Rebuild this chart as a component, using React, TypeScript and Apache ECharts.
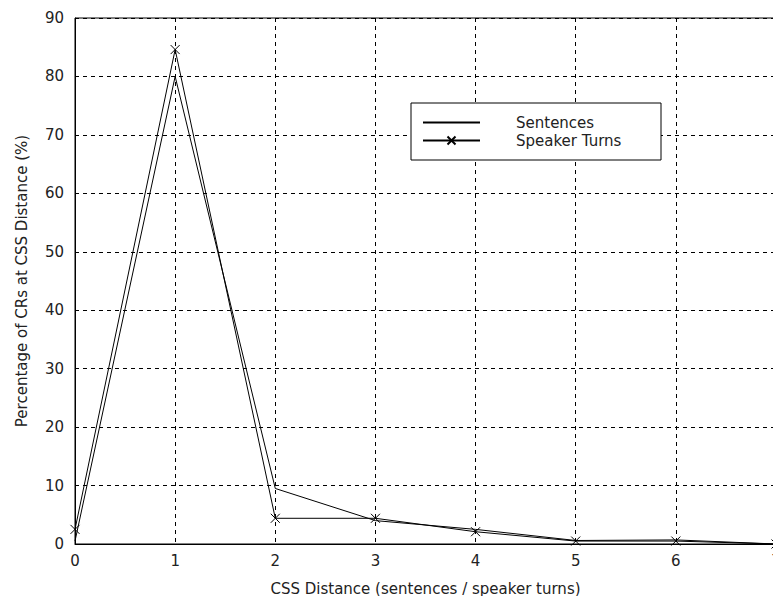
import React, { useEffect, useRef } from "react";
import * as echarts from "echarts";

const xValues = [0, 1, 2, 3, 4, 5, 6, 7];
const sentences = [0.5, 80, 9.5, 4.0, 2.5, 0.6, 0.7, 0];
const speakerTurns = [2.5, 84.6, 4.4, 4.4, 2.1, 0.5, 0.5, 0];
const seriesNames = ["Sentences", "Speaker Turns"];
const xAxisTitle = "CSS Distance (sentences / speaker turns)";
const yAxisTitle = "Percentage of CRs at CSS Distance (%)";

const FONT = "DejaVu Sans";
const TEXT = "#222";

export default function App() {
  const ref = useRef<HTMLDivElement>(null);
  useEffect(() => {
    document.body.style.margin = "0";
    if (!ref.current) return;
    const chart = echarts.init(ref.current, undefined, { renderer: "svg" });
    const toPairs = (ys: number[]) => xValues.map((x, i) => [x, ys[i]]);
    chart.setOption({
      animation: false,
      backgroundColor: "#fff",
      grid: {
        left: 75,
        top: 18,
        width: 701,
        height: 526,
        outerBoundsMode: "none",
        containLabel: false,
        show: true,
        borderColor: "#000",
        borderWidth: 1,
        backgroundColor: "transparent",
      },
      legend: {
        orient: "vertical",
        left: 411,
        top: 103,
        padding: [12, 12, 12, 11],
        itemGap: 3,
        itemWidth: 57,
        itemHeight: 10,
        borderColor: "#000",
        borderWidth: 1,
        backgroundColor: "#fff",
        data: [
          { name: seriesNames[0], itemStyle: { opacity: 0 } },
          { name: seriesNames[1] },
        ],
        textStyle: {
          fontFamily: FONT,
          fontSize: 15,
          color: TEXT,
          lineHeight: 14,
          width: 133,
          padding: [0, 0, 0, 31],
        },
      },
      xAxis: {
        type: "value",
        min: 0,
        max: 7,
        interval: 1,
        name: xAxisTitle,
        nameLocation: "middle",
        nameGap: 37,
        nameTextStyle: { fontFamily: FONT, fontSize: 15, color: TEXT },
        axisLine: { show: true, lineStyle: { color: "#000", width: 1 } },
        axisTick: { show: false },
        axisLabel: {
          fontFamily: FONT,
          fontSize: 15,
          color: TEXT,
          margin: 9,
          showMaxLabel: true,
        },
        splitLine: {
          show: true,
          lineStyle: { color: "#000", type: [4, 4], width: 1 },
        },
      },
      yAxis: {
        type: "value",
        min: 0,
        max: 90,
        interval: 10,
        name: yAxisTitle,
        nameLocation: "middle",
        nameGap: 46,
        nameRotate: 90,
        nameTextStyle: { fontFamily: FONT, fontSize: 15, color: TEXT },
        axisLine: { show: true, lineStyle: { color: "#000", width: 1 } },
        axisTick: { show: false },
        axisLabel: { fontFamily: FONT, fontSize: 15, color: TEXT, margin: 11 },
        splitLine: {
          show: true,
          lineStyle: { color: "#000", type: [4, 4], width: 1 },
        },
      },
      series: [
        {
          name: seriesNames[0],
          type: "line",
          data: toPairs(sentences),
          symbol: "none",
          lineStyle: { color: "#000", width: 1 },
          itemStyle: { color: "#000" },
        },
        {
          name: seriesNames[1],
          type: "line",
          data: toPairs(speakerTurns),
          symbol: "path://M0,0L10,10M10,0L0,10",
          symbolSize: 9,
          lineStyle: { color: "#000", width: 1 },
          itemStyle: { color: "none", borderColor: "#000", borderWidth: 1 },
        },
      ],
    });
    return () => chart.dispose();
  }, []);
  return (
    <div
      ref={ref}
      style={{ position: "fixed", left: 0, top: 0, width: 773, height: 596 }}
    />
  );
}
